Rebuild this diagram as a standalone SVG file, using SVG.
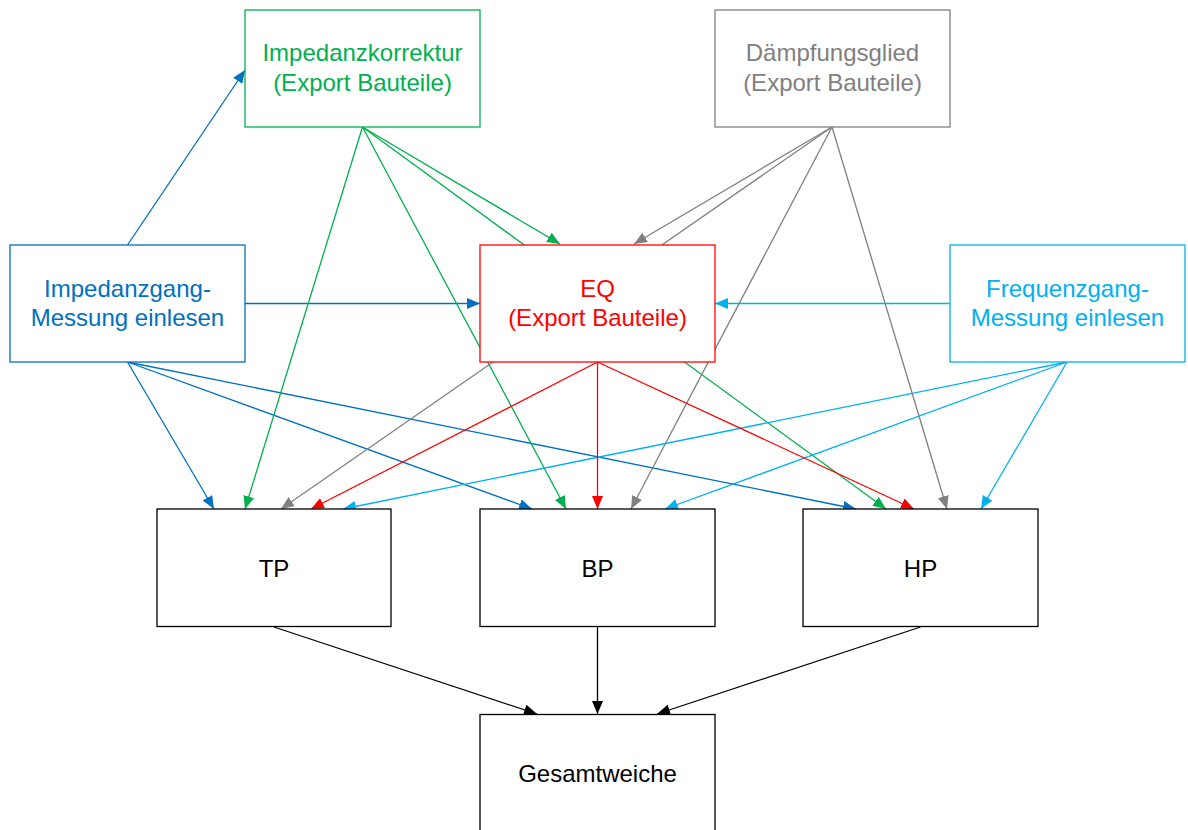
<svg xmlns="http://www.w3.org/2000/svg" width="1188" height="830" viewBox="0 0 1188 830">
<style>
.box{fill:#fff;stroke-width:1.3}
.t{font-family:"Liberation Sans",Arial,sans-serif;font-size:24px;text-anchor:middle}
.c{fill:none;stroke-width:1.3}
.blue{stroke:#0070C0}.green{stroke:#00B050}.gray{stroke:#808080}.lblue{stroke:#00B0F0}.red{stroke:#FF0000}.black{stroke:#000}
</style>
<defs>
<marker id="mBlue" markerUnits="userSpaceOnUse" markerWidth="14" markerHeight="12" refX="13" refY="5.5" orient="auto"><path d="M0,0 L13,5.5 L0,11 z" fill="#0070C0"/></marker>
<marker id="mGreen" markerUnits="userSpaceOnUse" markerWidth="14" markerHeight="12" refX="13" refY="5.5" orient="auto"><path d="M0,0 L13,5.5 L0,11 z" fill="#00B050"/></marker>
<marker id="mGray" markerUnits="userSpaceOnUse" markerWidth="14" markerHeight="12" refX="13" refY="5.5" orient="auto"><path d="M0,0 L13,5.5 L0,11 z" fill="#808080"/></marker>
<marker id="mLblue" markerUnits="userSpaceOnUse" markerWidth="14" markerHeight="12" refX="13" refY="5.5" orient="auto"><path d="M0,0 L13,5.5 L0,11 z" fill="#00B0F0"/></marker>
<marker id="mRed" markerUnits="userSpaceOnUse" markerWidth="14" markerHeight="12" refX="13" refY="5.5" orient="auto"><path d="M0,0 L13,5.5 L0,11 z" fill="#FF0000"/></marker>
<marker id="mBlack" markerUnits="userSpaceOnUse" markerWidth="14" markerHeight="12" refX="13" refY="5.5" orient="auto"><path d="M0,0 L13,5.5 L0,11 z" fill="#000"/></marker>
</defs>
<rect width="1188" height="830" fill="#fff"/>
<g id="connectors">
<line class="c blue" x1="127.5" y1="245" x2="245" y2="70" marker-end="url(#mBlue)"/>
<line class="c blue" x1="245" y1="303.5" x2="480" y2="303.5" marker-end="url(#mBlue)"/>
<line class="c blue" x1="127.5" y1="362" x2="214" y2="509" marker-end="url(#mBlue)"/>
<line class="c blue" x1="127.5" y1="362" x2="532" y2="509" marker-end="url(#mBlue)"/>
<line class="c blue" x1="127.5" y1="362" x2="856" y2="509" marker-end="url(#mBlue)"/>
<line class="c green" x1="362.5" y1="127" x2="560" y2="244" marker-end="url(#mGreen)"/>
<line class="c green" x1="362.5" y1="127" x2="245" y2="509" marker-end="url(#mGreen)"/>
<line class="c green" x1="362.5" y1="127" x2="566" y2="509" marker-end="url(#mGreen)"/>
<line class="c green" x1="362.5" y1="127" x2="886" y2="509" marker-end="url(#mGreen)"/>
<line class="c gray" x1="832" y1="127" x2="634" y2="244" marker-end="url(#mGray)"/>
<line class="c gray" x1="832" y1="127" x2="281" y2="509" marker-end="url(#mGray)"/>
<line class="c gray" x1="832" y1="127" x2="631" y2="509" marker-end="url(#mGray)"/>
<line class="c gray" x1="832" y1="127" x2="947" y2="509" marker-end="url(#mGray)"/>
<line class="c lblue" x1="949.5" y1="303.5" x2="715" y2="303.5" marker-end="url(#mLblue)"/>
<line class="c lblue" x1="1067" y1="362" x2="343" y2="509" marker-end="url(#mLblue)"/>
<line class="c lblue" x1="1067" y1="362" x2="665" y2="509" marker-end="url(#mLblue)"/>
<line class="c lblue" x1="1067" y1="362" x2="981" y2="509" marker-end="url(#mLblue)"/>
<line class="c red" x1="597.5" y1="362" x2="311" y2="509" marker-end="url(#mRed)"/>
<line class="c red" x1="597.5" y1="362" x2="597.5" y2="509" marker-end="url(#mRed)"/>
<line class="c red" x1="597.5" y1="362" x2="914" y2="509" marker-end="url(#mRed)"/>
<line class="c black" x1="274" y1="627" x2="537" y2="714" marker-end="url(#mBlack)"/>
<line class="c black" x1="597.5" y1="627" x2="597.5" y2="714" marker-end="url(#mBlack)"/>
<line class="c black" x1="920.5" y1="627" x2="657" y2="714" marker-end="url(#mBlack)"/>
</g>
<g id="impedanzkorrektur">
<rect class="box" x="245" y="10" width="235" height="117" stroke="#00B050"/>
<text class="t" fill="#00B050"><tspan x="362.5" y="61">Impedanzkorrektur</tspan><tspan x="362.5" y="91">(Export Bauteile)</tspan></text>
</g>
<g id="daempfungsglied">
<rect class="box" x="715" y="10" width="235" height="117" stroke="#808080"/>
<text class="t" fill="#808080"><tspan x="832.5" y="61">Dämpfungsglied</tspan><tspan x="832.5" y="91">(Export Bauteile)</tspan></text>
</g>
<g id="impedanzgang">
<rect class="box" x="10" y="245" width="235" height="117" stroke="#0070C0"/>
<text class="t" fill="#0070C0"><tspan x="127.5" y="297">Impedanzgang-</tspan><tspan x="127.5" y="326">Messung einlesen</tspan></text>
</g>
<g id="eq">
<rect class="box" x="480" y="245" width="235" height="117" stroke="#FF0000"/>
<text class="t" fill="#FF0000"><tspan x="597.5" y="297">EQ</tspan><tspan x="597.5" y="326">(Export Bauteile)</tspan></text>
</g>
<g id="frequenzgang">
<rect class="box" x="950" y="245" width="235" height="117" stroke="#00B0F0"/>
<text class="t" fill="#00B0F0"><tspan x="1067.5" y="297">Frequenzgang-</tspan><tspan x="1067.5" y="326">Messung einlesen</tspan></text>
</g>
<g id="tp">
<rect class="box" x="157" y="509" width="234" height="117.5" stroke="#000"/>
<text class="t" x="274" y="577" fill="#000">TP</text>
</g>
<g id="bp">
<rect class="box" x="480" y="509" width="235" height="117.5" stroke="#000"/>
<text class="t" x="597.5" y="577" fill="#000">BP</text>
</g>
<g id="hp">
<rect class="box" x="803" y="509" width="235" height="117.5" stroke="#000"/>
<text class="t" x="920.5" y="577" fill="#000">HP</text>
</g>
<g id="gesamtweiche">
<rect class="box" x="480" y="714.5" width="235" height="117" stroke="#000"/>
<text class="t" x="597.5" y="782" fill="#000">Gesamtweiche</text>
</g>
</svg>
